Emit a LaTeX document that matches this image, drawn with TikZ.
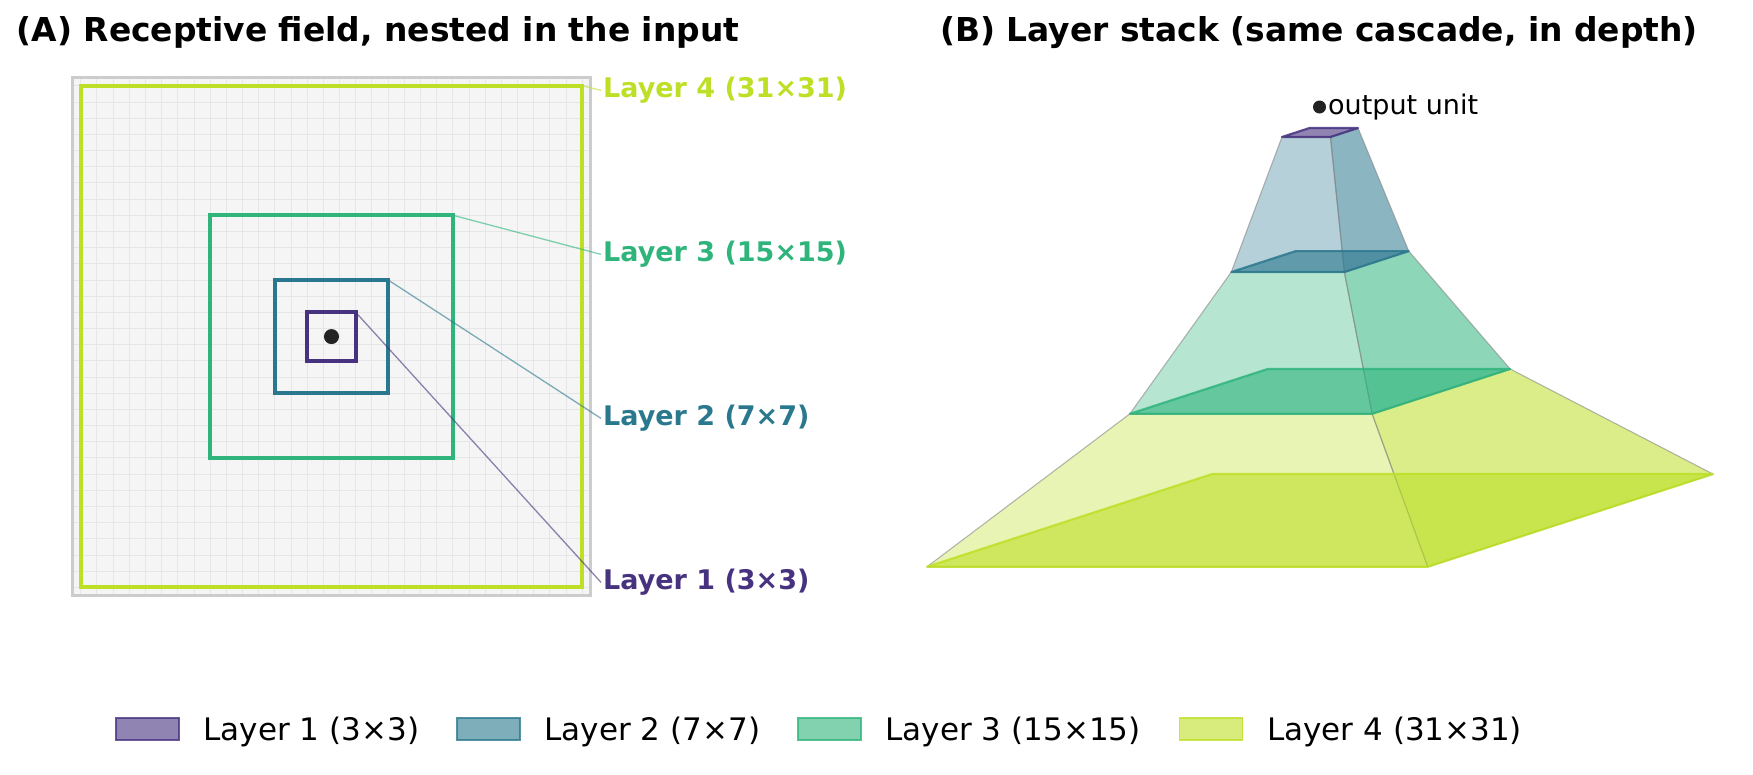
\documentclass[tikz,border=0pt]{standalone}
\usepackage{fontspec}
\setmainfont{DejaVu Sans}
\definecolor{cA}{HTML}{46327E}
\definecolor{cB}{HTML}{2A788E}
\definecolor{cC}{HTML}{2FB47C}
\definecolor{cD}{HTML}{BDDF26}
\definecolor{gridc}{HTML}{E6E6E6}
\definecolor{framec}{HTML}{CCCCCC}
\definecolor{panelbg}{HTML}{F5F5F5}
\definecolor{edgec}{HTML}{888888}
\definecolor{dotc}{HTML}{222222}
\newcommand\mklayer[3]{%
  \pgfmathsetmacro\hh{#2/2}%
  \coordinate (#1FL) at ({1320-\hh*25.35},{#3+\hh*2.99});
  \coordinate (#1FR) at ({1320+\hh*6.95},{#3+\hh*2.99});
  \coordinate (#1BR) at ({1320+\hh*25.35},{#3-\hh*2.99});
  \coordinate (#1BL) at ({1320-\hh*6.95},{#3-\hh*2.99});
}
\begin{document}
\begin{tikzpicture}[x=1bp,y=-1bp,
  titletext/.style={anchor=base, inner sep=0, font=\fontsize{32.9bp}{40bp}\selectfont\bfseries},
  lab/.style={anchor=base west, inner sep=2bp, font=\fontsize{27bp}{32bp}\selectfont\bfseries},
  legtext/.style={anchor=base west, inner sep=0, font=\fontsize{31bp}{37bp}\selectfont},
  legpatch/.style={draw=#1, fill=#1, fill opacity=0.6, draw opacity=0.8, line width=1.5bp, minimum width=63bp, minimum height=22bp, inner sep=0},
  gridline/.style={gridc, line width=0.9bp},
  sq/.style={line width=4bp, line join=miter},
  leader/.style={line width=1.3bp, draw opacity=0.6},
  face/.style={draw=edgec, draw opacity=0.6, line width=1.1bp, line join=round},
  slab/.style={fill=#1, fill opacity=0.6, draw=#1, draw opacity=0.85, line width=2.2bp, line join=round}
]
\useasboundingbox (0,0) rectangle (1753,775);

% titles
\node[titletext] (tA) at (378,41.5) {(A) Receptive field, nested in the input};
\node[titletext] (tB) at (1319,41.5) {(B) Layer stack (same cascade, in depth)};

% panel A
\begin{scope}[shift={(80.7,85.8)}, x=16.18bp, y=-16.18bp]
  \fill[panelbg] (-0.5,-0.5) rectangle (31.5,31.5);
  \foreach \i in {0,...,31} {
    \draw[gridline] (\i,-0.5) -- (\i,31.5);
    \draw[gridline] (-0.5,\i) -- (31.5,\i);
  }
  \draw[framec, line width=2.5bp] (-0.5,-0.5) rectangle (31.5,31.5);
  \draw[sq, cD] (0,0) rectangle (31,31);
  \draw[sq, cC] (8,8) rectangle (23,23);
  \draw[sq, cB] (12,12) rectangle (19,19);
  \draw[sq, cA] (14,14) rectangle (17,17);
  \coordinate (s4) at (31,0);
  \coordinate (s3) at (23,8);
  \coordinate (s2) at (19,12);
  \coordinate (s1) at (17,14);
  \node[circle, fill=dotc, minimum size=15bp, inner sep=0] (cdot) at (15.5,15.5) {};
\end{scope}

% labels and leaders
\node[lab, text=cD] (l4) at (601,97.7) {Layer 4 (31×31)};
\node[lab, text=cC] (l3) at (601,261.7) {Layer 3 (15×15)};
\node[lab, text=cB] (l2) at (601,425.7) {Layer 2 (7×7)};
\node[lab, text=cA] (l1) at (601,589.7) {Layer 1 (3×3)};
\draw[leader, cD] (s4) -- (l4.west);
\draw[leader, cC] (s3) -- (l3.west);
\draw[leader, cB] (s2) -- (l2.west);
\draw[leader, cA] (s1) -- (l1.west);

% panel B: pyramid
\mklayer{La}{3}{132.5}
\mklayer{Lb}{7}{261.6}
\mklayer{Lc}{15}{391.4}
\mklayer{Ld}{31}{520.4}

\path[face, fill=cB, fill opacity=0.35] (LaFL) -- (LaFR) -- (LbFR) -- (LbFL) -- cycle;
\path[face, fill=cB, fill opacity=0.55] (LaFR) -- (LaBR) -- (LbBR) -- (LbFR) -- cycle;
\path[face, fill=cC, fill opacity=0.35] (LbFL) -- (LbFR) -- (LcFR) -- (LcFL) -- cycle;
\path[face, fill=cC, fill opacity=0.55] (LbFR) -- (LbBR) -- (LcBR) -- (LcFR) -- cycle;
\path[face, fill=cD, fill opacity=0.35] (LcFL) -- (LcFR) -- (LdFR) -- (LdFL) -- cycle;
\path[face, fill=cD, fill opacity=0.55] (LcFR) -- (LcBR) -- (LdBR) -- (LdFR) -- cycle;

\path[slab=cD] (LdFL) -- (LdFR) -- (LdBR) -- (LdBL) -- cycle;
\path[slab=cC] (LcFL) -- (LcFR) -- (LcBR) -- (LcBL) -- cycle;
\path[slab=cB] (LbFL) -- (LbFR) -- (LbBR) -- (LbBL) -- cycle;
\path[slab=cA] (LaFL) -- (LaFR) -- (LaBR) -- (LaBL) -- cycle;

\node[circle, fill=dotc, minimum size=13bp, inner sep=0] (oudot) at (1319.5,107) {};
\node[anchor=base west, inner sep=0, font=\fontsize{27bp}{33bp}\selectfont] (ou) at (1328,114) {output unit};

% legend
\node[legpatch=cA] (p1) at (147.5,729) {};
\node[legtext] (t1) at (203.5,740) {Layer 1 (3×3)};
\node[legpatch=cB] (p2) at (488.5,729) {};
\node[legtext] (t2) at (544.5,740) {Layer 2 (7×7)};
\node[legpatch=cC] (p3) at (829.5,729) {};
\node[legtext] (t3) at (885.5,740) {Layer 3 (15×15)};
\node[legpatch=cD] (p4) at (1211,729) {};
\node[legtext] (t4) at (1267,740) {Layer 4 (31×31)};
\end{tikzpicture}
\end{document}
